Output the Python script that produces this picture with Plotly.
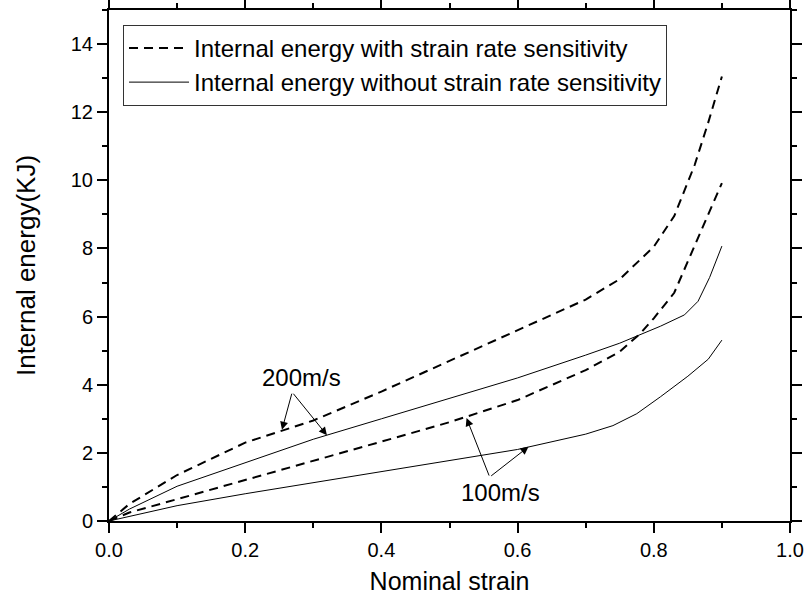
import plotly.graph_objects as go

# Data
x_srs_200 = [0, 0.03, 0.1, 0.2, 0.3, 0.4, 0.5, 0.6, 0.7, 0.75, 0.8, 0.83, 0.86, 0.88, 0.9]
y_srs_200 = [0, 0.5, 1.35, 2.3, 2.95, 3.8, 4.7, 5.6, 6.5, 7.1, 8.05, 8.95, 10.45, 11.7, 13.05]

x_srs_100 = [0, 0.03, 0.1, 0.2, 0.3, 0.4, 0.5, 0.6, 0.7, 0.75, 0.78, 0.8, 0.83, 0.86, 0.88, 0.9]
y_srs_100 = [0, 0.25, 0.64, 1.2, 1.75, 2.33, 2.9, 3.55, 4.43, 4.97, 5.5, 5.95, 6.7, 8.05, 9.0, 9.92]

x_nosrs_200 = [0, 0.03, 0.1, 0.2, 0.3, 0.4, 0.5, 0.6, 0.7, 0.75, 0.81, 0.845, 0.865, 0.882, 0.9]
y_nosrs_200 = [0, 0.35, 1.02, 1.72, 2.4, 3.0, 3.6, 4.2, 4.87, 5.22, 5.72, 6.05, 6.45, 7.15, 8.07]

x_nosrs_100 = [0, 0.1, 0.2, 0.3, 0.4, 0.5, 0.6, 0.7, 0.74, 0.775, 0.81, 0.85, 0.88, 0.9]
y_nosrs_100 = [0, 0.45, 0.8, 1.12, 1.45, 1.78, 2.1, 2.55, 2.8, 3.15, 3.65, 4.25, 4.75, 5.31]

legend_names = ["Internal energy with strain rate sensitivity",
                "Internal energy without strain rate sensitivity"]
x_ticks = [0.0, 0.2, 0.4, 0.6, 0.8, 1.0]
y_ticks = [0, 2, 4, 6, 8, 10, 12, 14]

FONT = "Liberation Sans, Arial, sans-serif"
dash_style = dict(color="black", width=2, dash="9px,6px")
solid_style = dict(color="black", width=1)

fig = go.Figure()
fig.add_trace(go.Scatter(x=x_srs_200, y=y_srs_200, mode="lines", line=dash_style,
                         name=legend_names[0], legendgroup="a"))
fig.add_trace(go.Scatter(x=x_srs_100, y=y_srs_100, mode="lines", line=dash_style,
                         name=legend_names[0], legendgroup="a", showlegend=False))
fig.add_trace(go.Scatter(x=x_nosrs_200, y=y_nosrs_200, mode="lines", line=solid_style,
                         name=legend_names[1], legendgroup="b"))
fig.add_trace(go.Scatter(x=x_nosrs_100, y=y_nosrs_100, mode="lines", line=solid_style,
                         name=legend_names[1], legendgroup="b", showlegend=False))

# annotations
arrow_common = dict(showarrow=True, arrowhead=2, arrowsize=1.6, arrowwidth=1,
                    arrowcolor="black", text="", xref="x", yref="y", axref="x", ayref="y")
ann = [
    dict(x=0.254, y=2.68, ax=0.269, ay=3.78, **arrow_common),
    dict(x=0.32, y=2.52, ax=0.269, ay=3.78, **arrow_common),
    dict(x=0.525, y=3.02, ax=0.559, ay=1.29, **arrow_common),
    dict(x=0.616, y=2.18, ax=0.559, ay=1.29, **arrow_common),
    dict(x=0.283, y=4.2, text="200m/s", showarrow=False, xref="x", yref="y",
         font=dict(size=24, family=FONT, color="black")),
    dict(x=0.575, y=0.84, text="100m/s", showarrow=False, xref="x", yref="y",
         font=dict(size=24, family=FONT, color="black")),
]

axis_common = dict(showline=True, linecolor="black", linewidth=2, mirror="ticks",
                   ticks="outside", ticklen=10, tickwidth=2, tickcolor="black",
                   showgrid=False, zeroline=False, automargin=False,
                   tickfont=dict(size=20, family=FONT, color="black"))

fig.update_layout(
    width=806, height=598,
    margin=dict(l=109, r=16, t=10, b=77),
    plot_bgcolor="white", paper_bgcolor="white",
    font=dict(family=FONT, color="black"),
    showlegend=True,
    legend=dict(x=0.0206, y=0.971, xanchor="left", yanchor="top",
                bordercolor="#333333", borderwidth=1, bgcolor="white",
                font=dict(size=24, family=FONT, color="black"),
                itemwidth=60, tracegroupgap=0),
    annotations=ann,
    xaxis=dict(range=[0, 1.0], tickvals=x_ticks, ticktext=["%.1f" % v for v in x_ticks],
               minor=dict(dtick=0.1, ticks="outside", ticklen=5, tickwidth=1.5, tickcolor="black"),
               title=dict(text="Nominal strain", font=dict(size=25, family=FONT), standoff=12),
               **axis_common),
    yaxis=dict(range=[0, 15], tickvals=y_ticks, ticktext=[str(v) for v in y_ticks],
               minor=dict(dtick=1, ticks="outside", ticklen=5, tickwidth=1.5, tickcolor="black"),
               title=dict(text="Internal energy(KJ)", font=dict(size=26, family=FONT), standoff=28),
               **axis_common),
)

fig.write_html("out.html")
